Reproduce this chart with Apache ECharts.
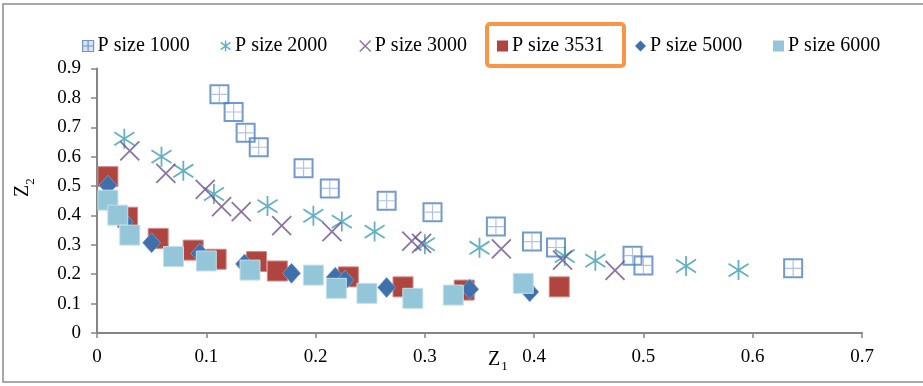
<!DOCTYPE html>
<html>
<head>
<meta charset="utf-8">
<script src="https://cdn.jsdelivr.net/npm/echarts@6/dist/echarts.min.js"></script>
<style>
  html, body { margin: 0; padding: 0; background: #fff; }
  #chart { width: 923px; height: 386px; }
</style>
</head>
<body>
<div id="chart"></div>
<script>
// series names
var seriesNames = ['P size 1000', 'P size 2000', 'P size 3000', 'P size 3531', 'P size 5000', 'P size 6000'];

// data (Z1, Z2)
var p1000X = [0.112, 0.125, 0.136, 0.148, 0.189, 0.213, 0.265, 0.307, 0.365, 0.398, 0.420, 0.490, 0.500, 0.637];
var p1000Y = [0.812, 0.752, 0.681, 0.632, 0.561, 0.492, 0.450, 0.411, 0.362, 0.311, 0.291, 0.263, 0.230, 0.220];

var p2000X = [0.025, 0.059, 0.079, 0.107, 0.156, 0.198, 0.224, 0.254, 0.300, 0.350, 0.428, 0.456, 0.539, 0.587];
var p2000Y = [0.661, 0.600, 0.552, 0.473, 0.432, 0.399, 0.379, 0.345, 0.302, 0.290, 0.262, 0.246, 0.228, 0.214];

var p3000X = [0.030, 0.063, 0.099, 0.114, 0.132, 0.169, 0.215, 0.288, 0.297, 0.370, 0.426, 0.474];
var p3000Y = [0.620, 0.543, 0.489, 0.430, 0.413, 0.365, 0.345, 0.313, 0.305, 0.286, 0.248, 0.213];

var p3531X = [0.010, 0.028, 0.056, 0.088, 0.109, 0.146, 0.165, 0.230, 0.280, 0.336, 0.423];
var p3531Y = [0.532, 0.394, 0.322, 0.282, 0.251, 0.243, 0.211, 0.191, 0.157, 0.146, 0.157];

var p5000X = [0.010, 0.025, 0.050, 0.094, 0.135, 0.178, 0.218, 0.227, 0.265, 0.341, 0.396];
var p5000Y = [0.503, 0.378, 0.307, 0.271, 0.235, 0.203, 0.190, 0.180, 0.155, 0.149, 0.140];

var p6000X = [0.010, 0.019, 0.030, 0.070, 0.100, 0.140, 0.198, 0.219, 0.247, 0.289, 0.326, 0.390];
var p6000Y = [0.452, 0.401, 0.333, 0.260, 0.245, 0.214, 0.197, 0.152, 0.135, 0.118, 0.129, 0.169];

function pts(xs, ys) {
    return xs.map(function (x, i) { return [x, ys[i]]; });
}

var serif = "'Liberation Serif', 'Times New Roman', serif";

var boxPath = 'path://M0,0L10,0L10,10L0,10Z';
var plusPath = 'path://M5,0L5,10M0,5L10,5';
var boxPlusPath = 'path://M0,0L10,0L10,10L0,10ZM5,0L5,10M0,5L10,5';
var starPath = 'path://M5,0L5,10M0.6,1.8L9.4,8.2M0.6,8.2L9.4,1.8';
var crossPath = 'path://M0,0L10,10M0,10L10,0';

var clear = 'rgba(0,0,0,0)';

// legend items (one legend each so the spacing matches)
var legendLeft = [82, 220, 359, 497, 635, 773];
var legendIcons = [
    { icon: boxPlusPath, itemStyle: { color: '#cfdcef', borderColor: '#4F81BD', borderWidth: 1.2 } },
    { icon: starPath, itemStyle: { color: clear, borderColor: '#3E9DB1', borderWidth: 1.5 } },
    { icon: crossPath, itemStyle: { color: clear, borderColor: '#71508F', borderWidth: 1.5 } },
    { icon: 'rect', itemStyle: { color: '#B0443F', borderWidth: 0 } },
    { icon: 'diamond', itemStyle: { color: '#3F70AB', borderWidth: 0 } },
    { icon: 'rect', itemStyle: { color: '#93C6D8', borderWidth: 0 } }
];

var legends = seriesNames.map(function (n, i) {
    return {
        data: [{ name: n, icon: legendIcons[i].icon, itemStyle: legendIcons[i].itemStyle }],
        left: legendLeft[i],
        top: 36,
        padding: 0,
        itemWidth: 11,
        itemHeight: 11,
        selectedMode: false,
        textStyle: { fontFamily: serif, fontSize: 20, color: '#000', padding: [0, 0, 0, -1] }
    };
});

var myChart = echarts.init(document.getElementById('chart'), null, { renderer: 'canvas' });
var option = {
    animation: false,
    backgroundColor: '#fff',
    legend: legends,
    grid: { left: 97, right: 61, top: 68.5, bottom: 53, containLabel: false },
    xAxis: {
        type: 'value',
        min: 0,
        max: 0.7,
        interval: 0.1,
        axisLine: { show: true, lineStyle: { color: '#868686', width: 2 } },
        axisTick: { show: true, length: 5, lineStyle: { color: '#868686', width: 1.5 } },
        axisLabel: { fontFamily: serif, fontSize: 19, color: '#000', margin: 15 },
        splitLine: { show: false }
    },
    yAxis: {
        type: 'value',
        min: 0,
        max: 0.9,
        interval: 0.1,
        axisLine: { show: true, lineStyle: { color: '#868686', width: 2 } },
        axisTick: { show: true, length: 6, lineStyle: { color: '#868686', width: 1.5 } },
        axisLabel: { fontFamily: serif, fontSize: 19, color: '#000', margin: 16 },
        splitLine: { show: false }
    },
    series: [
        {
            name: seriesNames[0], type: 'scatter', data: pts(p1000X, p1000Y),
            symbol: boxPath, symbolSize: 18,
            itemStyle: { color: clear, borderColor: '#4F81BD', borderWidth: 2 }
        },
        {
            name: seriesNames[0], type: 'scatter', data: pts(p1000X, p1000Y),
            symbol: plusPath, symbolSize: 16, silent: true,
            itemStyle: { color: clear, borderColor: '#9db4d8', borderWidth: 1.2 }
        },
        {
            name: seriesNames[1], type: 'scatter', data: pts(p2000X, p2000Y),
            symbol: starPath, symbolSize: 20,
            itemStyle: { color: clear, borderColor: '#3E9DB1', borderWidth: 1.8 }
        },
        {
            name: seriesNames[2], type: 'scatter', data: pts(p3000X, p3000Y),
            symbol: crossPath, symbolSize: 19,
            itemStyle: { color: clear, borderColor: '#71508F', borderWidth: 1.8 }
        },
        {
            name: seriesNames[3], type: 'scatter', data: pts(p3531X, p3531Y),
            symbol: 'rect', symbolSize: 20,
            itemStyle: { color: '#B0443F', borderColor: '#cf8a87', borderWidth: 1, opacity: 1 }
        },
        {
            name: seriesNames[4], type: 'scatter', data: pts(p5000X, p5000Y),
            symbol: 'diamond', symbolSize: [18, 20],
            itemStyle: { color: '#3F70AB', borderColor: '#7f9fc7', borderWidth: 0.8, opacity: 1 }
        },
        {
            name: seriesNames[5], type: 'scatter', data: pts(p6000X, p6000Y),
            symbol: 'rect', symbolSize: 20,
            itemStyle: { color: '#93C6D8', borderColor: '#c3e0ea', borderWidth: 1, opacity: 1 }
        }
    ],
    graphic: [
        // outer frame
        {
            type: 'rect', silent: true, z: -1,
            shape: { x: 3, y: 4, width: 925, height: 378 },
            style: { fill: 'none', stroke: '#8c8c8c', lineWidth: 1.5 }
        },
        // orange highlight box round the 3531 legend item
        {
            type: 'rect', silent: true, z: 10,
            shape: { x: 487, y: 24, width: 137, height: 42, r: 3 },
            style: { fill: 'none', stroke: '#F79646', lineWidth: 4 }
        },
        // Z1 axis title
        {
            type: 'text', silent: true, x: 494, y: 359.5,
            style: { text: 'Z', font: '20px ' + serif, fill: '#000', align: 'center', verticalAlign: 'middle' }
        },
        {
            type: 'text', silent: true, x: 504.5, y: 367,
            style: { text: '1', font: '13px ' + serif, fill: '#000', align: 'center', verticalAlign: 'middle' }
        },
        // Z2 axis title (rotated)
        {
            type: 'text', silent: true, x: 22.5, y: 191, rotation: Math.PI / 2,
            style: { text: 'Z', font: '20px ' + serif, fill: '#000', align: 'center', verticalAlign: 'middle' }
        },
        {
            type: 'text', silent: true, x: 30.5, y: 181.5, rotation: Math.PI / 2,
            style: { text: '2', font: '13px ' + serif, fill: '#000', align: 'center', verticalAlign: 'middle' }
        }
    ]
};
myChart.setOption(option);
</script>
</body>
</html>
